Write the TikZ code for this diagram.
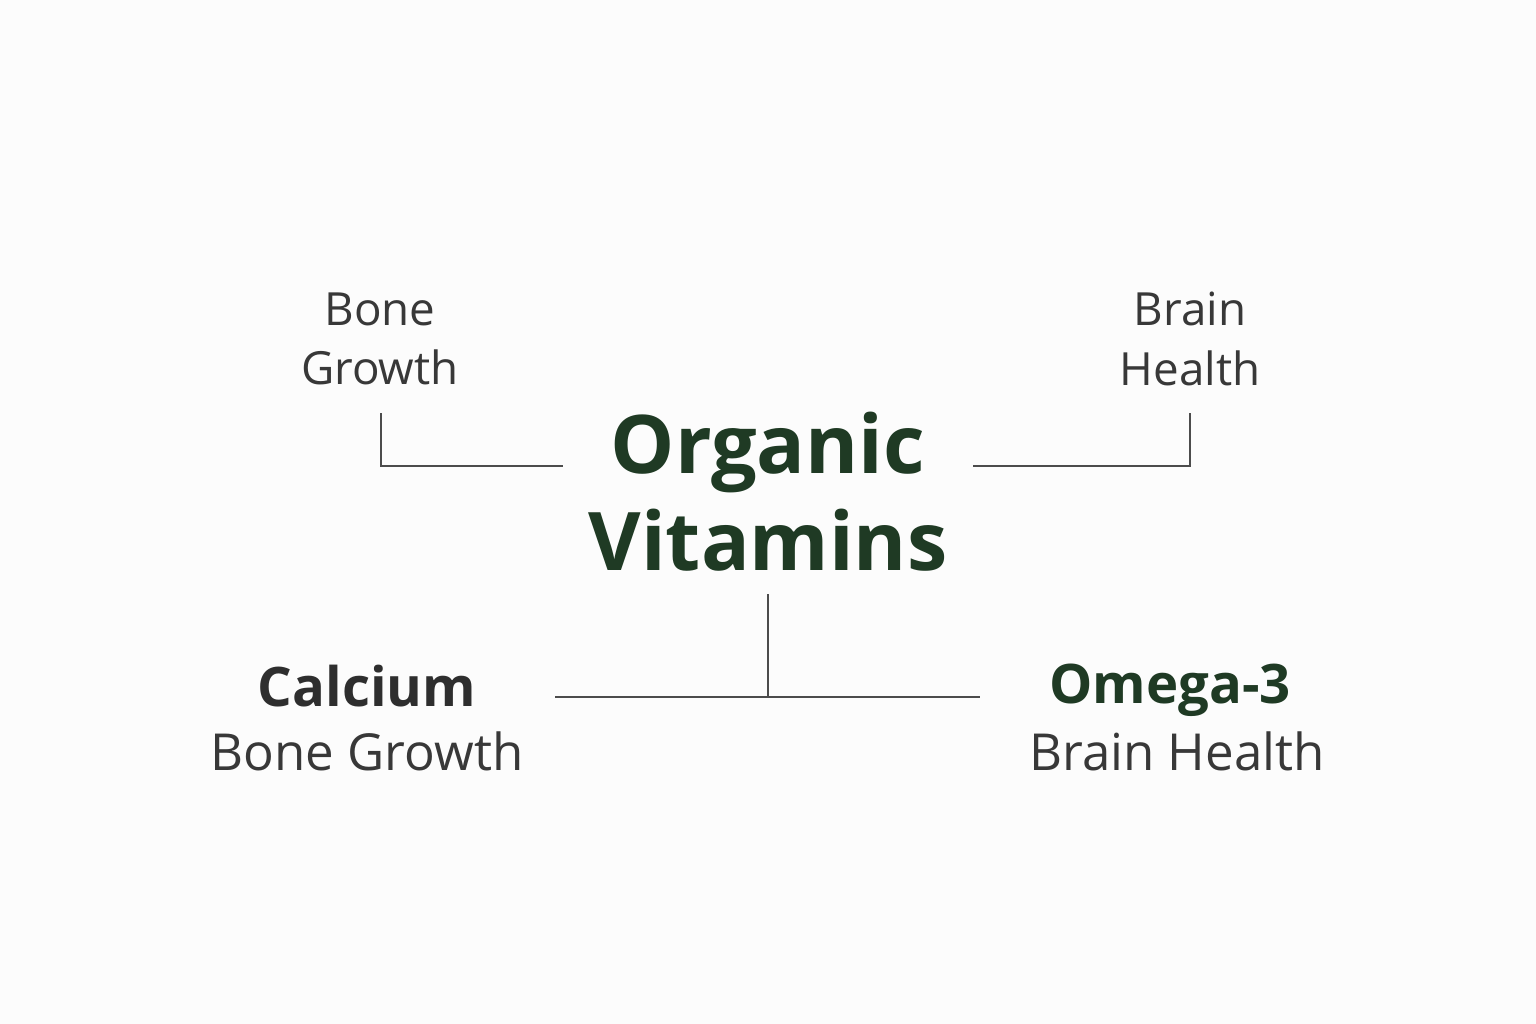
\documentclass[tikz,border=0pt]{standalone}
\usepackage{fontspec}
\setmainfont{Open Sans}
\definecolor{dgreen}{HTML}{1F3A24}
\begin{document}
\begin{tikzpicture}[x=0.01cm,y=-0.01cm,
  lbl/.style={text=black!78,font=\fontsize{13}{17}\selectfont,align=center,inner sep=0pt},
  sub/.style={text=black!78,font=\fontsize{14.5}{18}\selectfont,inner sep=0pt},
  conn/.style={draw=black!70,line width=0.7pt}]
\fill[white!99!black] (0,0) rectangle (1536,1024);
\node[text=dgreen,font=\bfseries\fontsize{23}{26}\selectfont,inner sep=0pt] (t1) at (768,452) {Organic};
\node[text=dgreen,font=\bfseries\fontsize{23}{26}\selectfont,inner sep=0pt] (t2) at (768,540) {Vitamins};
\node[lbl] (bg) at (380,339) {Bone\\Growth};
\node[lbl] (bh) at (1190,339) {Brain\\Health};
\node[text=black!82,font=\bfseries\fontsize{15.5}{18}\selectfont,inner sep=0pt] (ca) at (367,686) {Calcium};
\node[sub] (cab) at (367,751) {Bone Growth};
\node[text=dgreen,font=\bfseries\fontsize{15.5}{18}\selectfont,inner sep=0pt] (om) at (1170,690) {Omega-3};
\node[sub] (omb) at (1177,751) {Brain Health};
\coordinate (a1) at (381,413); \coordinate (a2) at (381,466); \coordinate (a3) at (563,466);
\coordinate (b1) at (1190,413); \coordinate (b2) at (1190,466); \coordinate (b3) at (973,466);
\coordinate (c1) at (768,594); \coordinate (c2) at (768,697);
\coordinate (d1) at (555,697); \coordinate (d2) at (980,697);
\draw[conn] (a1) -- (a2) -- (a3);
\draw[conn] (b1) -- (b2) -- (b3);
\draw[conn] (c1) -- (c2);
\draw[conn] (d1) -- (d2);
\end{tikzpicture}
\end{document}
